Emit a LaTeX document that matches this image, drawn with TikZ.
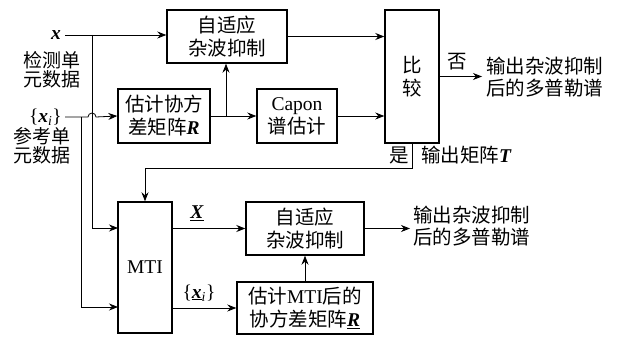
\documentclass[tikz,border=0pt]{standalone}
\usepackage{fontspec}
\setmainfont{Liberation Serif}
\newfontfamily\cjk{Noto Sans CJK SC}
\usetikzlibrary{arrows.meta}
\newcommand{\vx}{\textbf{\textit{x}}}
\newcommand{\vR}{\textbf{\textit{R}}}
\newcommand{\vT}{\textbf{\textit{T}}}
\newcommand{\vX}{\textbf{\textit{X}}}
\begin{document}
\begin{tikzpicture}[x=1pt,y=-1pt,
  font=\fontsize{19.5}{23}\selectfont,
  box/.style={draw,line width=1.4pt,inner sep=0pt,align=center},
  ln/.style={line width=0.8pt},
  arr/.style={ln,-{Stealth[length=9pt,width=7pt]}},
  lbl/.style={inner sep=0pt,align=center}]
\useasboundingbox (0,0) rectangle (618,337);
% boxes
\node[box,minimum width=120pt,minimum height=53pt] (ad1) at (227,36.5) {\cjk 自适应\\\cjk 杂波抑制};
\node[box,minimum width=92pt,minimum height=54pt] (estR) at (164,116) {\cjk 估计协方\\{\cjk 差矩阵}\vR};
\node[box,minimum width=80pt,minimum height=54pt] (capon) at (297,116) {Capon\\\cjk 谱估计};
\node[box,minimum width=54pt,minimum height=133pt] (cmp) at (412,76.5) {\cjk 比\\\cjk 较};
\node[box,minimum width=54pt,minimum height=131pt] (mti) at (145,267.5) {MTI};
\node[box,minimum width=118pt,minimum height=53pt] (ad2) at (305,228.5) {\cjk 自适应\\\cjk 杂波抑制};
\node[box,minimum width=136pt,minimum height=52pt] (estM) at (305,308) {{\cjk 估计}MTI{\cjk 后的}\\{\cjk 协方差矩阵}\underline{\vR}};
% input labels
\node[lbl,anchor=east] (xl) at (61,35) {\vx};
\node[lbl,font=\fontsize{19}{19}\selectfont] (xt) at (52,70) {\cjk 检测单\\\cjk 元数据};
\node[lbl,anchor=east] (xil) at (62,117) {\{\vx\textsubscript{\textit{i}}\}};
\node[lbl,font=\fontsize{19}{19}\selectfont] (xit) at (42,146) {\cjk 参考单\\\cjk 元数据};
% coordinates
\coordinate (xs) at (65,35);
\coordinate (xis) at (65,117);
\coordinate (xb) at (92,35);
\coordinate (xib) at (81,117);
\coordinate (m1) at (118,228);
\coordinate (m2) at (118,307);
\coordinate (rb) at (226,116);
\coordinate (fb1) at (412,143);
\coordinate (fb2) at (412,168);
\coordinate (fb3) at (145,168);
\coordinate (o1) at (482,76.5);
\coordinate (o2) at (410,228.5);
% connectors
\draw[arr] (xs) -- (ad1.west |- xs);
\draw[arr] (xb) -- (xb |- m1) -- (m1);
\draw[arr] (xis) -- (88,117) arc[start angle=180,end angle=0,radius=4pt] -- (estR.west);
\draw[arr] (xib) -- (xib |- m2) -- (m2);
\draw[arr] (estR.east) -- (capon.west);
\draw[arr] (rb) -- (rb |- ad1.south);
\draw[arr] (ad1.east) -- (ad1.east -| cmp.west);
\draw[arr] (capon.east) -- (capon.east -| cmp.west);
\draw[arr] (cmp.east) -- (o1);
\draw[arr] (fb1) -- (fb2) -- (fb3) -- (mti.north);
\draw[arr] (mti.east |- ad2.west) -- (ad2.west);
\draw[arr] (mti.east |- estM.west) -- (estM.west);
\draw[arr] (estM.north) -- (ad2.south);
\draw[arr] (ad2.east) -- (o2);
% edge labels and outputs
\node[lbl] (no) at (457,62) {\cjk 否};
\node[lbl,anchor=west,font=\fontsize{19.5}{21.5}\selectfont] (out1) at (486,77) {\cjk 输出杂波抑制\\\cjk 后的多普勒谱};
\node[lbl] (yes) at (399,155) {\cjk 是};
\node[lbl,anchor=west] (outT) at (421,155) {{\cjk 输出矩阵}\vT};
\node[lbl] (Xl) at (197,213) {\underline{\vX}};
\node[lbl] (xul) at (199,293) {\{\underline{\vx}\textsubscript{\textit{i}}\}};
\node[lbl,anchor=west,font=\fontsize{19.5}{21.5}\selectfont] (out2) at (413,226) {\cjk 输出杂波抑制\\\cjk 后的多普勒谱};
\end{tikzpicture}
\end{document}
